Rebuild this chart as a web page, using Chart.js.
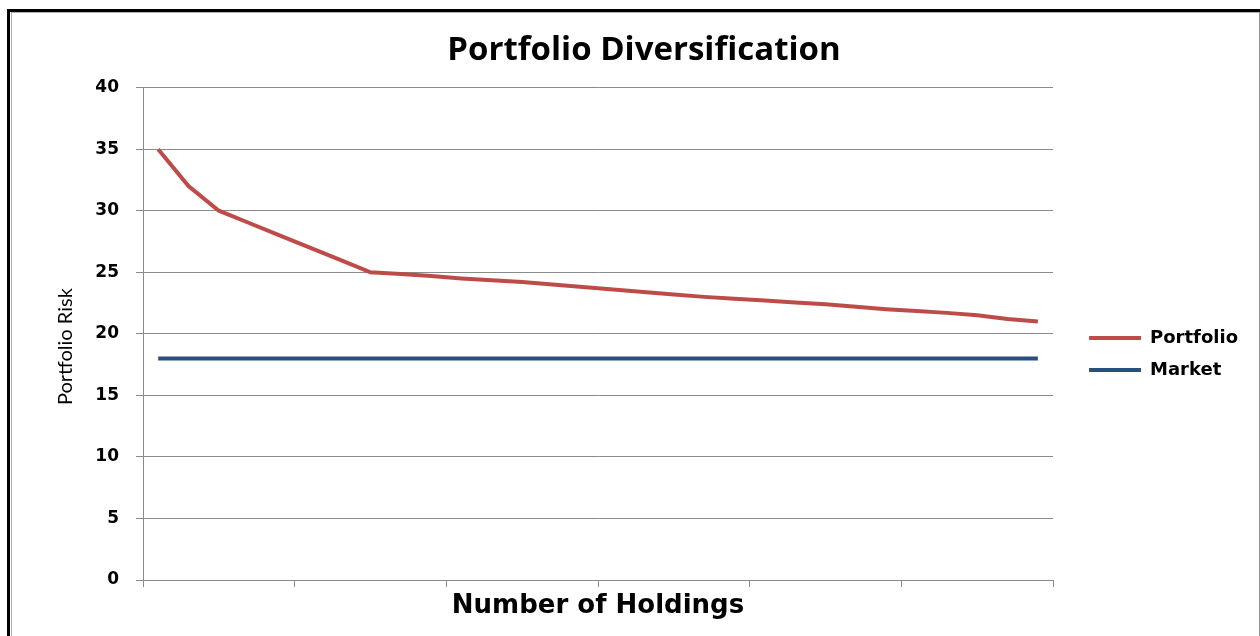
<!DOCTYPE html>
<html lang="en">
<head>
<meta charset="UTF-8">
<title>Portfolio Diversification</title>
<script src="https://cdn.jsdelivr.net/npm/chart.js"></script>
<style>
  body { margin: 0; background: #fff; }
  .wrap { position: relative; width: 1260px; height: 636px; overflow: hidden; }
  .frame-outer {
    position: absolute; left: 7px; top: 9px; width: 1260px; height: 700px;
    border-top: 3px solid #000; border-left: 3px solid #000; pointer-events: none;
  }
  .frame-inner {
    position: absolute; left: 11px; top: 12px; width: 1247px; height: 700px;
    border-top: 1px solid #b0b0b0; border-left: 1px solid #b0b0b0; border-right: 1px solid #909090;
    pointer-events: none;
  }
</style>
</head>
<body>
<div class="wrap">
  <canvas id="divChart"></canvas>
  <div class="frame-outer"></div>
  <div class="frame-inner"></div>
</div>
<script>
// number of holdings (category axis, labels hidden in the original)
const holdings = ['1','2','3','4','5','6','7','8','9','10','11','12','13','14','15',
                  '16','17','18','19','20','21','22','23','24','25','26','27','28','29','30'];
const portfolioRisk = [35, 32, 30, 29, 28, 27, 26, 25, 24.85, 24.7, 24.5, 24.35, 24.2, 24, 23.8,
                       23.6, 23.4, 23.2, 23, 22.85, 22.7, 22.55, 22.4, 22.2, 22, 21.85, 21.7, 21.5, 21.2, 21];
const marketRisk = [18, 18, 18, 18, 18, 18, 18, 18, 18, 18, 18, 18, 18, 18, 18,
                    18, 18, 18, 18, 18, 18, 18, 18, 18, 18, 18, 18, 18, 18, 18];

const gridGray = '#8a8a8a';
const tickFont = { family: 'DejaVu Sans', weight: 'bold', size: 17 };

const ctx = document.getElementById('divChart').getContext('2d');
new Chart(ctx, {
  type: 'line',
  data: {
    labels: holdings,
    datasets: [
      {
        label: 'Portfolio',
        data: portfolioRisk,
        borderColor: '#BE4B48',
        backgroundColor: '#BE4B48',
        borderWidth: 4,
        pointRadius: 0,
        tension: 0
      },
      {
        label: 'Market',
        data: marketRisk,
        borderColor: '#28507F',
        backgroundColor: '#28507F',
        borderWidth: 4,
        pointRadius: 0,
        tension: 0
      }
    ]
  },
  options: {
    responsive: true,
    maintainAspectRatio: false,
    animation: false,
    layout: { padding: { left: 40, right: 12, top: 0, bottom: 0 } },
    plugins: {
      title: {
        display: true,
        text: 'Portfolio Diversification',
        color: '#000',
        font: { family: 'Open Sans', weight: 'bold', size: 33 },
        padding: { top: 31, bottom: 17 }
      },
      legend: {
        position: 'right',
        title: { display: true, text: ' ', font: { size: 10 }, padding: { top: 60, bottom: 0 } },
        labels: {
          usePointStyle: true,
          pointStyle: 'line',
          pointStyleWidth: 52,
          color: '#000',
          font: { family: 'DejaVu Sans', weight: 'bold', size: 18 },
          padding: 14
        }
      },
      tooltip: { enabled: false }
    },
    scales: {
      x: {
        type: 'category',
        offset: true,
        grid: {
          offset: true,
          drawOnChartArea: false,
          tickLength: 7,
          color: c => (c.index === undefined || c.index % 5 === 0) ? gridGray : 'rgba(0,0,0,0)'
        },
        border: { color: gridGray },
        ticks: { display: false, autoSkip: false },
        title: {
          display: true,
          text: 'Number of Holdings',
          color: '#000',
          font: { family: 'DejaVu Sans', weight: 'bold', size: 26 },
          padding: { top: 0, bottom: 14 }
        },
        afterFit: s => { s.height = 56; }
      },
      y: {
        min: 0,
        max: 40,
        ticks: { stepSize: 5, color: '#000', font: tickFont, padding: 17 },
        grid: { color: gridGray, tickLength: 7 },
        border: { color: gridGray },
        title: {
          display: true,
          text: 'Portfolio Risk     ',
          color: '#000',
          font: { family: 'Lato', size: 20 },
          padding: { top: 14, bottom: 0 }
        },
        afterFit: s => { s.width = 103; }
      },
      yGap: {
        type: 'linear',
        position: 'right',
        display: true,
        grid: { display: false },
        border: { display: false },
        ticks: { display: false },
        afterFit: s => { s.width = 22; }
      }
    }
  }
});
</script>
</body>
</html>
